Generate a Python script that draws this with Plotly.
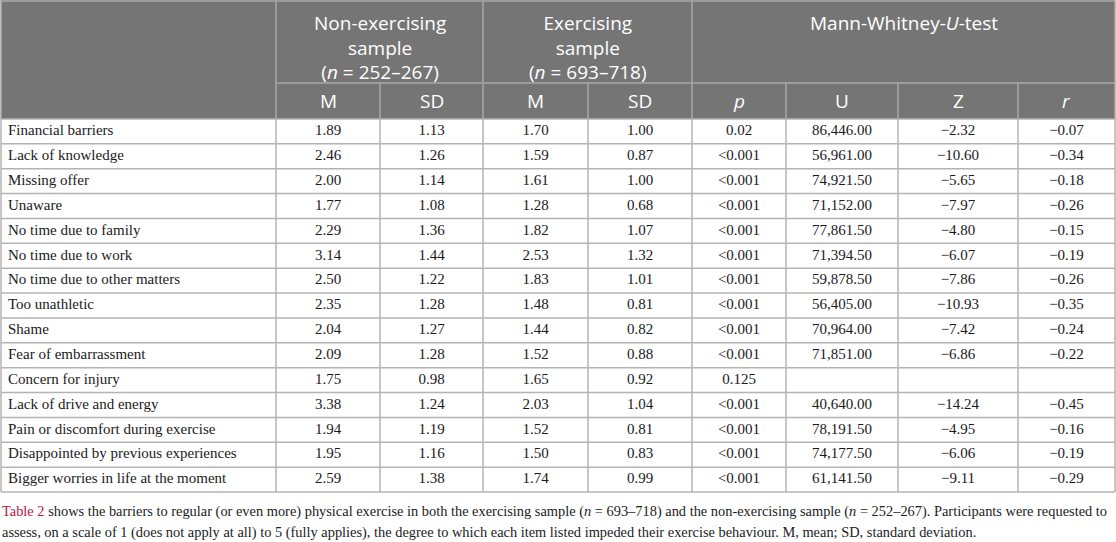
import plotly.graph_objects as go

# table content
barriers = ["Financial barriers", "Lack of knowledge", "Missing offer", "Unaware",
            "No time due to family", "No time due to work", "No time due to other matters",
            "Too unathletic", "Shame", "Fear of embarrassment", "Concern for injury",
            "Lack of drive and energy", "Pain or discomfort during exercise",
            "Disappointed by previous experiences", "Bigger worries in life at the moment"]
non_m = [1.89, 2.46, 2.00, 1.77, 2.29, 3.14, 2.50, 2.35, 2.04, 2.09, 1.75, 3.38, 1.94, 1.95, 2.59]
non_sd = [1.13, 1.26, 1.14, 1.08, 1.36, 1.44, 1.22, 1.28, 1.27, 1.28, 0.98, 1.24, 1.19, 1.16, 1.38]
ex_m = [1.70, 1.59, 1.61, 1.28, 1.82, 2.53, 1.83, 1.48, 1.44, 1.52, 1.65, 2.03, 1.52, 1.50, 1.74]
ex_sd = [1.00, 0.87, 1.00, 0.68, 1.07, 1.32, 1.01, 0.81, 0.82, 0.88, 0.92, 1.04, 0.81, 0.83, 0.99]
p_vals = ["0.02", "<0.001", "<0.001", "<0.001", "<0.001", "<0.001", "<0.001", "<0.001",
          "<0.001", "<0.001", "0.125", "<0.001", "<0.001", "<0.001", "<0.001"]
u_vals = [86446.00, 56961.00, 74921.50, 71152.00, 77861.50, 71394.50, 59878.50, 56405.00,
          70964.00, 71851.00, None, 40640.00, 78191.50, 74177.50, 61141.50]
z_vals = [-2.32, -10.60, -5.65, -7.97, -4.80, -6.07, -7.86, -10.93, -7.42, -6.86, None,
          -14.24, -4.95, -6.06, -9.11]
r_vals = [-0.07, -0.34, -0.18, -0.26, -0.15, -0.19, -0.26, -0.35, -0.24, -0.22, None,
          -0.45, -0.16, -0.19, -0.29]

group_headers = ["Non-exercising<br>sample<br>(<i>n</i> = 252–267)",
                 "Exercising<br>sample<br>(<i>n</i> = 693–718)",
                 "Mann-Whitney-<i>U</i>-test"]
sub_headers = ["M", "SD", "M", "SD", "<i>p</i>", "U", "Z", "<i>r</i>"]

caption1 = ("<span style='color:#c0143c'>Table 2</span> shows the barriers to regular (or even more) "
            "physical exercise in both the exercising sample (<i>n</i> = 693–718) and the "
            "non-exercising sample (<i>n</i> = 252–267). Participants were requested to")
caption2 = ("assess, on a scale of 1 (does not apply at all) to 5 (fully applies), the degree to "
            "which each item listed impeded their exercise behaviour. M, mean; SD, standard deviation.")


def num(v):
    return f"{v:.2f}"


def neg(v):
    return "" if v is None else f"{v:.2f}".replace("-", "−")


def uf(v):
    return "" if v is None else f"{v:,.2f}"


columns = [barriers,
           [num(v) for v in non_m], [num(v) for v in non_sd],
           [num(v) for v in ex_m], [num(v) for v in ex_sd],
           p_vals, [uf(v) for v in u_vals], [neg(v) for v in z_vals], [neg(v) for v in r_vals]]

# layout geometry (pixels)
W, H = 1116, 542
col_edges = [1, 276, 380, 483, 588, 692, 786, 898, 1018, 1115]
h1_bot, h2_bot, tbl_bot = 83, 119, 492
n = len(barriers)
row_h = (tbl_bot - h2_bot) / n
row_mid = [h2_bot + row_h * (i + 0.5) for i in range(n)]

head_bg = "#757575"
head_line = "#a9a9a9"
body_line = "#b3b3b3"

fig = go.Figure()
shapes = []
# header background
shapes.append(dict(type="rect", x0=col_edges[0], x1=col_edges[-1], y0=0, y1=h2_bot,
                   fillcolor=head_bg, line=dict(width=0), layer="below"))
# body horizontal lines
for i in range(n + 1):
    y = h2_bot + row_h * i
    shapes.append(dict(type="line", x0=col_edges[0], x1=col_edges[-1], y0=y, y1=y,
                       line=dict(color=body_line, width=1.5)))
# body vertical lines
for x in col_edges:
    shapes.append(dict(type="line", x0=x, x1=x, y0=h2_bot, y1=tbl_bot,
                       line=dict(color=body_line, width=1.5)))
# header lines
shapes.append(dict(type="line", x0=col_edges[0], x1=col_edges[-1], y0=1, y1=1,
                   line=dict(color=head_line, width=1.5)))
shapes.append(dict(type="line", x0=col_edges[1], x1=col_edges[-1], y0=h1_bot, y1=h1_bot,
                   line=dict(color=head_line, width=1.5)))
for x in [col_edges[0], col_edges[1], col_edges[3], col_edges[5], col_edges[-1]]:
    shapes.append(dict(type="line", x0=x, x1=x, y0=0, y1=h2_bot,
                       line=dict(color=head_line, width=1.5)))
for x in [col_edges[2], col_edges[4], col_edges[6], col_edges[7], col_edges[8]]:
    shapes.append(dict(type="line", x0=x, x1=x, y0=h1_bot, y1=h2_bot,
                       line=dict(color=head_line, width=1.5)))

annotations = []
spans = [(1, 3), (3, 5), (5, 9)]
for text, (a, b) in zip(group_headers, spans):
    annotations.append(dict(x=(col_edges[a] + col_edges[b]) / 2, y=8, text=text,
                            xanchor="center", yanchor="top", showarrow=False, align="center",
                            font=dict(family="Open Sans", size=19, color="white")))
for j, text in enumerate(sub_headers):
    annotations.append(dict(x=(col_edges[j + 1] + col_edges[j + 2]) / 2,
                            y=(h1_bot + h2_bot) / 2, text=text, xanchor="center",
                            yanchor="middle", showarrow=False,
                            font=dict(family="Open Sans", size=19, color="white")))

# body text through scatter traces
for j, col in enumerate(columns):
    if j == 0:
        xs = [col_edges[0] + 7] * n
        pos = "middle right"
    else:
        xs = [(col_edges[j] + col_edges[j + 1]) / 2] * n
        pos = "middle center"
    fig.add_trace(go.Scatter(x=xs, y=row_mid, text=col, mode="text", textposition=pos,
                             textfont=dict(family="Liberation Serif", size=15, color="#1a1a1a"),
                             hoverinfo="skip", showlegend=False, cliponaxis=False))

annotations.append(dict(x=0, y=511, text=caption1, xanchor="left", yanchor="middle",
                        showarrow=False, font=dict(family="Liberation Serif", size=14.4, color="#222")))
annotations.append(dict(x=0, y=532, text=caption2, xanchor="left", yanchor="middle",
                        showarrow=False, font=dict(family="Liberation Serif", size=14.4, color="#222")))

fig.update_layout(width=W, height=H, margin=dict(l=0, r=0, t=0, b=0),
                  paper_bgcolor="white", plot_bgcolor="white",
                  shapes=shapes, annotations=annotations,
                  xaxis=dict(range=[0, W], visible=False, fixedrange=True),
                  yaxis=dict(range=[H, 0], visible=False, fixedrange=True))
fig.write_html("out.html", config={"displayModeBar": False},
               post_script="document.body.style.margin='0';")
